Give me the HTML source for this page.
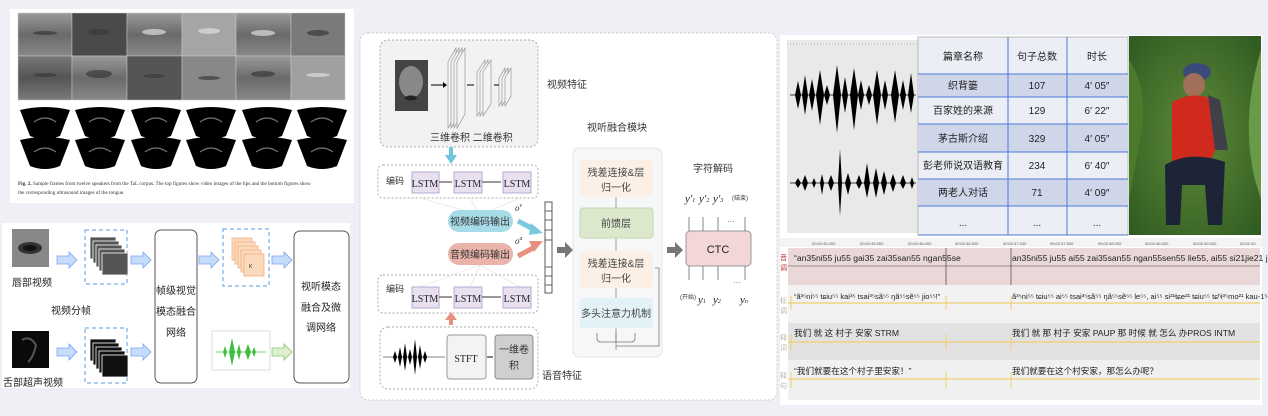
<!DOCTYPE html>
<html><head><meta charset="utf-8"><style>
html,body{margin:0;padding:0;background:#eef0f5;}
svg{display:block;font-family:"Liberation Sans","Noto Sans CJK SC",sans-serif;}
.s{font-family:"Liberation Serif","Noto Serif CJK SC",serif;}
</style></head><body>
<svg width="1268" height="416" viewBox="0 0 1268 416" xmlns="http://www.w3.org/2000/svg">
<defs>
<linearGradient id="lip" x1="0" y1="0" x2="0" y2="1"><stop offset="0" stop-color="#9a9a9a"/><stop offset="0.5" stop-color="#6a6a6a"/><stop offset="1" stop-color="#888"/></linearGradient>
<linearGradient id="lip2" x1="0" y1="0" x2="0" y2="1"><stop offset="0" stop-color="#777"/><stop offset="0.5" stop-color="#555"/><stop offset="1" stop-color="#7a7a7a"/></linearGradient>
<radialGradient id="photo" cx="0.5" cy="0.5" r="0.7"><stop offset="0" stop-color="#5f8a3a"/><stop offset="1" stop-color="#2f5a20"/></radialGradient>
<g id="fan"><path d="M0 0 L50 0 L40 26 Q25 32 10 26 Z" fill="#000"/><path d="M0 0 Q25 -6 50 0" fill="#000"/><path d="M14 12 Q25 4 36 12" stroke="#777" stroke-width="1.2" fill="none"/></g>
<g id="frame"><rect width="26" height="22" fill="#555" stroke="#fff" stroke-width="0.8"/></g>
<g id="tframe"><rect width="26" height="22" fill="#111" stroke="#fff" stroke-width="0.8"/></g>
<g id="oframe"><rect width="20" height="22" fill="#fbd9bc" stroke="#f0b080" stroke-width="0.8"/></g>
</defs>

<!-- ===== Top-left panel ===== -->
<rect x="10" y="9" width="344" height="194" fill="#fff"/>
<g>
<rect x="18" y="13" width="327" height="87" fill="url(#lip)"/>
<g fill="url(#lip)" stroke="#ccc" stroke-width="0.5">
<rect x="18" y="13" width="54" height="43"/><rect x="72" y="13" width="55" height="43" fill="#4a4a4a"/><rect x="127" y="13" width="55" height="43"/><rect x="182" y="13" width="54" height="43" fill="#a5a5a5"/><rect x="236" y="13" width="55" height="43"/><rect x="291" y="13" width="54" height="43" fill="#7a7a7a"/>
<rect x="18" y="56" width="54" height="44" fill="url(#lip2)"/><rect x="72" y="56" width="55" height="44"/><rect x="127" y="56" width="55" height="44" fill="#555"/><rect x="182" y="56" width="54" height="44" fill="#888"/><rect x="236" y="56" width="55" height="44"/><rect x="291" y="56" width="54" height="44" fill="#a0a0a0"/>
</g>
<g fill="#3a3a3a" opacity="0.7">
<ellipse cx="45" cy="33" rx="12" ry="2"/><ellipse cx="99" cy="32" rx="11" ry="3"/><ellipse cx="154" cy="32" rx="12" ry="3" fill="#ddd"/><ellipse cx="209" cy="31" rx="11" ry="3" fill="#ddd"/><ellipse cx="263" cy="33" rx="12" ry="3" fill="#ddd"/><ellipse cx="318" cy="33" rx="11" ry="3"/>
<ellipse cx="45" cy="75" rx="12" ry="2"/><ellipse cx="99" cy="74" rx="13" ry="4"/><ellipse cx="154" cy="76" rx="11" ry="2"/><ellipse cx="209" cy="78" rx="11" ry="2"/><ellipse cx="263" cy="74" rx="12" ry="3"/><ellipse cx="318" cy="75" rx="12" ry="2" fill="#ddd"/>
</g>
<use href="#fan" x="20" y="110"/><use href="#fan" x="75" y="110"/><use href="#fan" x="131" y="110"/><use href="#fan" x="186" y="110"/><use href="#fan" x="242" y="110"/><use href="#fan" x="297" y="110"/>
<use href="#fan" x="20" y="140"/><use href="#fan" x="75" y="140"/><use href="#fan" x="131" y="140"/><use href="#fan" x="186" y="140"/><use href="#fan" x="242" y="140"/><use href="#fan" x="297" y="140"/>
<text class="s" x="18" y="185" font-size="5.2" fill="#333"><tspan font-weight="bold">Fig. 2.</tspan> Sample frames from twelve speakers from the TaL corpus. The top figures show video images of the lips and the bottom figures show</text>
<text class="s" x="18" y="194" font-size="5.2" fill="#333">the corresponding ultrasound images of the tongue.</text>
</g>

<!-- ===== Bottom-left panel ===== -->
<rect x="2" y="223" width="348" height="165" fill="#fff"/>
<g>
<rect x="12" y="229" width="37" height="38" fill="#888"/><ellipse cx="30" cy="248" rx="12" ry="6" fill="#333"/><ellipse cx="30" cy="248" rx="7" ry="3" fill="#111"/>
<text x="12" y="286" font-size="10" fill="#222">唇部视频</text>
<text x="51" y="314" font-size="10" fill="#222">视频分帧</text>
<rect x="12" y="331" width="37" height="37" fill="#0a0a0a"/><path d="M22 340 Q30 335 36 345 Q33 358 28 362" stroke="#555" fill="none" stroke-width="2"/>
<text x="3" y="386" font-size="10" fill="#222">舌部超声视频</text>
<g fill="#c7dbfb" stroke="#7aa6ee" stroke-width="0.8">
<path d="M57 256 h12 v-4 l8 8 l-8 8 v-4 h-12z"/><path d="M131 256 h12 v-4 l8 8 l-8 8 v-4 h-12z"/><path d="M199 256 h12 v-4 l8 8 l-8 8 v-4 h-12z"/><path d="M272 256 h12 v-4 l8 8 l-8 8 v-4 h-12z"/>
<path d="M57 348 h12 v-4 l8 8 l-8 8 v-4 h-12z"/><path d="M131 348 h12 v-4 l8 8 l-8 8 v-4 h-12z"/>
</g>
<path d="M272 348 h12 v-4 l8 8 l-8 8 v-4 h-12z" fill="#dff0d4" stroke="#8cc070" stroke-width="0.8"/>
<rect x="85" y="230" width="42" height="54" fill="none" stroke="#5b9be0" stroke-dasharray="4 3"/>
<rect x="85" y="328" width="42" height="55" fill="none" stroke="#5b9be0" stroke-dasharray="4 3"/>
<rect x="223" y="229" width="46" height="57" fill="none" stroke="#5b9be0" stroke-dasharray="4 3"/>
<use href="#frame" x="90" y="237"/><use href="#frame" x="93" y="241"/><use href="#frame" x="96" y="245"/><use href="#frame" x="99" y="249"/><use href="#frame" x="102" y="253"/>
<use href="#tframe" x="90" y="339"/><use href="#tframe" x="93" y="343"/><use href="#tframe" x="96" y="347"/><use href="#tframe" x="99" y="351"/><use href="#tframe" x="102" y="355"/>
<use href="#oframe" x="232" y="238"/><use href="#oframe" x="235" y="242"/><use href="#oframe" x="238" y="246"/><use href="#oframe" x="241" y="250"/><use href="#oframe" x="244" y="254"/>
<text x="249" y="268" font-size="5" fill="#333">K</text>
<rect x="155" y="230" width="42" height="153" rx="6" fill="#fff" stroke="#555"/>
<text x="176" y="294" font-size="10" text-anchor="middle" fill="#222">帧级视觉</text>
<text x="176" y="315" font-size="10" text-anchor="middle" fill="#222">模态融合</text>
<text x="176" y="336" font-size="10" text-anchor="middle" fill="#222">网络</text>
<rect x="294" y="231" width="55" height="152" rx="6" fill="#fff" stroke="#555"/>
<text x="321" y="290" font-size="10" text-anchor="middle" fill="#222">视听模态</text>
<text x="321" y="311" font-size="10" text-anchor="middle" fill="#222">融合及微</text>
<text x="321" y="331" font-size="10" text-anchor="middle" fill="#222">调网络</text>
<rect x="212" y="331" width="58" height="39" fill="#fff" stroke="#ddd"/>
<path d="M216 352 H266" stroke="#7fd07f" stroke-width="1"/>
<g fill="#3fbf3f"><path d="M225 346 L227 352 L225 358 L223 352Z"/><path d="M232 338 L235 352 L232 366 L229 352Z"/><path d="M239 344 L241 352 L239 360 L237 352Z"/><path d="M248 344 L251 352 L248 360 L245 352Z"/><path d="M254 347 L256 352 L254 357 L252 352Z"/></g>
</g>

<!-- ===== Middle panel ===== -->
<rect x="360" y="33" width="417" height="367" rx="8" fill="#fff" stroke="#ccc" stroke-dasharray="2 2"/>
<g>
<rect x="380" y="40" width="158" height="107" rx="8" fill="#f2f2f2" stroke="#aaa" stroke-dasharray="2 2"/>
<rect x="395" y="60" width="33" height="51" fill="#444"/><ellipse cx="411" cy="82" rx="12" ry="16" fill="#888"/><ellipse cx="411" cy="98" rx="6" ry="2.5" fill="#222"/>
<path d="M431 85 h12" stroke="#000"/><path d="M443 82 l4 3 l-4 3z"/>
<g fill="#f4f4f4" stroke="#888" stroke-width="0.6">
<path d="M448 62 l8 -14 v66 l-8 14z"/><path d="M451 62 l8 -14 v66 l-8 14z"/><path d="M454 62 l8 -14 v66 l-8 14z"/><path d="M457 62 l8 -14 v66 l-8 14z"/>
<path d="M477 72 l8 -12 v44 l-8 12z"/><path d="M480 72 l8 -12 v44 l-8 12z"/><path d="M483 72 l8 -12 v44 l-8 12z"/>
<path d="M499 78 l6 -10 v28 l-6 10z"/><path d="M502 78 l6 -10 v28 l-6 10z"/><path d="M505 78 l6 -10 v28 l-6 10z"/>
</g>
<path d="M467 85 h7 M494 85 h5" stroke="#000"/>
<text x="547" y="88" font-size="10" fill="#333">视频特征</text>
<text x="430" y="141" font-size="10" fill="#333">三维卷积 二维卷积</text>
<path d="M451 147 v8" stroke="#6cc6dc" stroke-width="4"/><path d="M445 155 l6 9 l6 -9z" fill="#6cc6dc"/>
<rect x="378" y="165" width="160" height="33" rx="5" fill="#fff" stroke="#aaa" stroke-dasharray="2 2"/>
<text x="386" y="184" font-size="9" fill="#333">编码</text>
<rect x="378" y="275" width="160" height="38" rx="5" fill="#fff" stroke="#aaa" stroke-dasharray="2 2"/>
<text x="386" y="292" font-size="9" fill="#333">编码</text>
<path d="M420 198 L480 215 M470 198 L480 215 M520 198 L480 215 M420 287 L480 265 M470 287 L480 265 M520 287 L480 265" stroke="#ddd" stroke-width="0.6"/>
<g fill="#e8e0f0" stroke="#b8a8d0"><rect x="412" y="172" width="27" height="21"/><rect x="454" y="172" width="28" height="21"/><rect x="503" y="172" width="28" height="21"/>
<rect x="412" y="287" width="27" height="21"/><rect x="454" y="287" width="28" height="21"/><rect x="503" y="287" width="28" height="21"/></g>
<g class="s" font-size="10" fill="#222" text-anchor="middle"><text x="425" y="187">LSTM</text><text x="468" y="187">LSTM</text><text x="517" y="187">LSTM</text><text x="425" y="302">LSTM</text><text x="468" y="302">LSTM</text><text x="517" y="302">LSTM</text></g>
<path d="M439 182 h13 M482 182 h19 M439 297 h13 M482 297 h19" stroke="#333"/>
<rect x="448" y="210" width="65" height="22" rx="11" fill="#a8dbe8"/>
<text x="480" y="225" font-size="10" text-anchor="middle" fill="#333">视频编码输出</text>
<rect x="448" y="243" width="65" height="22" rx="11" fill="#eab4ab"/>
<text x="480" y="258" font-size="10" text-anchor="middle" fill="#333">音频编码输出</text>
<text class="s" x="515" y="211" font-size="9" font-style="italic" fill="#333">o<tspan font-size="6" dy="-4">v</tspan></text>
<text class="s" x="515" y="244" font-size="9" font-style="italic" fill="#333">o<tspan font-size="6" dy="-4">a</tspan></text>
<path d="M518 221 L535 230" stroke="#7cc8dc" stroke-width="5"/><path d="M531 223 l12 10 l-14 2z" fill="#7cc8dc"/>
<path d="M518 256 L535 247" stroke="#e89080" stroke-width="5"/><path d="M529 241 l14 0 l-9 11z" fill="#e89080"/>
<rect x="545" y="202" width="7" height="91" fill="#fff" stroke="#333" stroke-width="0.8"/>
<path d="M545 211 h7 M545 220 h7 M545 230 h7 M545 240 h7 M545 267 h7 M545 276 h7 M545 285 h7" stroke="#333" stroke-width="0.8"/>
<path d="M557 247 h8 v-5 l8 8 l-8 8 v-5 h-8z" fill="#777"/>
<path d="M451 325 v-6" stroke="#e89080" stroke-width="4"/><path d="M445 320 l6 -8 l6 8z" fill="#e89080"/>
<rect x="380" y="327" width="158" height="62" rx="8" fill="#fff" stroke="#aaa" stroke-dasharray="2 2"/>
<path d="M383 357 H445" stroke="#000" stroke-width="0.6"/>
<g fill="#000"><path d="M393 357 l2 -6 l2 6 l-2 6z"/><path d="M398 357 l2 -10 l2 10 l-2 10z"/><path d="M403 357 l2 -14 l2 14 l-2 14z"/><path d="M408 357 l2 -8 l2 8 l-2 8z"/><path d="M413 357 l2 -18 l2 18 l-2 18z"/><path d="M418 357 l2 -12 l2 12 l-2 12z"/><path d="M423 357 l2 -6 l2 6 l-2 6z"/></g>
<rect x="447" y="335" width="39" height="44" rx="3" fill="#f3f3f3" stroke="#999"/>
<text class="s" x="466" y="362" font-size="10" text-anchor="middle" fill="#222">STFT</text>
<path d="M487 357 h6" stroke="#000"/>
<rect x="495" y="335" width="38" height="44" rx="3" fill="#cfcfcf" stroke="#888"/>
<text x="514" y="353" font-size="10" text-anchor="middle" fill="#333">一维卷</text>
<text x="514" y="369" font-size="10" text-anchor="middle" fill="#333">积</text>
<text x="542" y="379" font-size="10" fill="#333">语音特征</text>

<text x="587" y="131" font-size="10" fill="#333">视听融合模块</text>
<rect x="573" y="148" width="89" height="209" rx="6" fill="#f6f7f8" stroke="#e4e4e4"/>
<path d="M616 197 v11 M616 238 v13 M616 288 v10 M616 328 v22" stroke="#888" stroke-width="0.8"/>
<rect x="580" y="160" width="73" height="37" rx="3" fill="#fcf0e6"/>
<text x="616" y="176" font-size="10" text-anchor="middle" fill="#444">残差连接&amp;层</text><text x="616" y="191" font-size="10" text-anchor="middle" fill="#444">归一化</text>
<rect x="580" y="208" width="73" height="30" rx="3" fill="#dbe8cc" stroke="#c8d8b4"/>
<text x="616" y="227" font-size="10" text-anchor="middle" fill="#444">前馈层</text>
<rect x="580" y="251" width="73" height="37" rx="3" fill="#fcf0e6"/>
<text x="616" y="267" font-size="10" text-anchor="middle" fill="#444">残差连接&amp;层</text><text x="616" y="282" font-size="10" text-anchor="middle" fill="#444">归一化</text>
<rect x="580" y="298" width="73" height="30" rx="3" fill="#e3f2f7"/>
<text x="616" y="317" font-size="10" text-anchor="middle" fill="#444">多头注意力机制</text>
<path d="M597 333 v5 q0 4 4 4 h30 q4 0 4 -4 v-5 M616 342 v-9 M616 346 H659 V268 H655" stroke="#777" fill="none" stroke-width="0.8"/>
<path d="M667 247 h8 v-5 l8 8 l-8 8 v-5 h-8z" fill="#777"/>
<rect x="686" y="231" width="65" height="35" rx="4" fill="#f3d6d6" stroke="#999"/>
<text x="718" y="253" font-size="11" text-anchor="middle" fill="#222">CTC</text>
<text x="693" y="172" font-size="10" fill="#333">字符解码</text>
<path d="M689 231 v-14 M703 231 v-14 M718 231 v-14 M745 231 v-14 M689 266 v14 M703 266 v14 M718 266 v14 M745 266 v14" stroke="#666" stroke-width="0.8"/>
<g class="s" font-style="italic" font-size="11" fill="#222"><text x="685" y="202">y'<tspan font-size="6">1</tspan></text><text x="699" y="202">y'<tspan font-size="6">2</tspan></text><text x="713" y="202">y'<tspan font-size="6">3</tspan></text>
<text x="698" y="303">y<tspan font-size="6">1</tspan></text><text x="713" y="303">y<tspan font-size="6">2</tspan></text><text x="740" y="303">y<tspan font-size="6">n</tspan></text></g>
<text x="732" y="200" font-size="6" fill="#333">(结束)</text>
<text x="680" y="299" font-size="6" fill="#333">(开始)</text>
<text x="727" y="222" font-size="8" fill="#666">…</text><text x="733" y="283" font-size="8" fill="#666">…</text>
</g>

<!-- ===== Right panel ===== -->
<rect x="780" y="35" width="482" height="370" fill="#fff"/>
<rect x="787" y="40" width="131" height="193" fill="#e9e9e9"/>
<path d="M787 44 H918" stroke="#aaa" stroke-dasharray="1 2"/>
<path d="M790 95 H916 M790 183 H916" stroke="#000" stroke-width="0.8"/>
<g fill="#000">
<path d="M795 95 l3 -14 l3 14 l-3 14z"/><path d="M802 95 l3 -20 l3 20 l-3 20z"/><path d="M809 95 l3 -16 l3 16 l-3 16z"/><path d="M816 95 l4 -25 l4 25 l-4 30z"/><path d="M824 95 l3 -10 l3 10 l-3 10z"/>
<path d="M833 95 l4 -30 l4 30 l-4 38z"/><path d="M842 95 l3 -18 l3 18 l-3 18z"/><path d="M850 95 l4 -27 l4 27 l-4 35z"/><path d="M858 95 l3 -15 l3 15 l-3 15z"/><path d="M866 95 l3 -10 l3 10 l-3 10z"/>
<path d="M873 95 l4 -25 l4 25 l-4 30z"/><path d="M882 95 l3 -15 l3 15 l-3 15z"/><path d="M891 95 l4 -25 l4 25 l-4 28z"/><path d="M900 95 l3 -15 l3 15 l-3 15z"/><path d="M908 95 l3 -22 l3 22 l-3 18z"/>
<path d="M795 183 l3 -5 l3 5 l-3 5z"/><path d="M802 183 l3 -8 l3 8 l-3 8z"/><path d="M812 183 l2 -5 l2 5 l-2 5z"/><path d="M820 183 l2 -9 l2 9 l-2 12z"/><path d="M828 183 l3 -8 l3 8 l-3 8z"/>
<path d="M838 183 l2 -34 l2 34 l-2 33z"/><path d="M845 183 l3 -10 l3 10 l-3 12z"/><path d="M856 183 l3 -8 l3 8 l-3 6z"/><path d="M864 183 l3 -20 l3 20 l-3 15z"/><path d="M873 183 l3 -15 l3 15 l-3 15z"/>
<path d="M881 183 l3 -12 l3 12 l-3 12z"/><path d="M890 183 l3 -9 l3 9 l-3 9z"/><path d="M900 183 l3 -8 l3 8 l-3 6z"/><path d="M910 183 l2 -6 l2 6 l-2 6z"/>
</g>
<!-- table -->
<rect x="918" y="37" width="210" height="198" fill="#eceef6" stroke="#bbb"/>
<g fill="#d0d6ea"><rect x="918" y="74" width="210" height="23"/><rect x="918" y="124" width="210" height="28"/><rect x="918" y="179" width="210" height="27"/></g>
<g stroke="#4a7bd8" stroke-width="1"><path d="M918 74 H1128 M918 97 H1128 M918 124 H1128 M918 152 H1128 M918 179 H1128 M918 206 H1128 M918 235 H1128"/><path d="M1008 37 V235 M1067 37 V235"/></g>
<g font-size="10" fill="#222" text-anchor="middle">
<text x="963" y="60">篇章名称</text><text x="1037" y="60">句子总数</text><text x="1097" y="60">时长</text>
<text x="963" y="89">织背篓</text><text x="1037" y="89">107</text><text x="1097" y="89">4′ 05″</text>
<text x="963" y="114">百家姓的来源</text><text x="1037" y="114">129</text><text x="1097" y="114">6′ 22″</text>
<text x="963" y="142">茅古斯介绍</text><text x="1037" y="142">329</text><text x="1097" y="142">4′ 05″</text>
<text x="963" y="169">彭老师说双语教育</text><text x="1037" y="169">234</text><text x="1097" y="169">6′ 40″</text>
<text x="963" y="196">两老人对话</text><text x="1037" y="196">71</text><text x="1097" y="196">4′ 09″</text>
<text x="963" y="226">...</text><text x="1037" y="226">...</text><text x="1097" y="226">...</text>
</g>
<!-- photo -->
<rect x="1129" y="36" width="132" height="199" fill="url(#photo)"/>
<path d="M1129 60 Q1150 90 1140 140 L1129 200Z" fill="#4a7a2a"/><path d="M1261 50 Q1240 120 1255 180 L1261 200Z" fill="#6a9a48"/>
<ellipse cx="1197" cy="72" rx="14" ry="9" fill="#3a4a7a"/>
<ellipse cx="1194" cy="85" rx="11" ry="12" fill="#a0705a"/>
<path d="M1172 102 Q1194 90 1214 100 L1218 145 L1208 165 L1172 165Z" fill="#d02a1e"/>
<path d="M1208 95 L1220 100 L1228 150 L1215 150Z" fill="#404048"/>
<path d="M1165 165 Q1190 150 1225 162 L1222 225 L1208 225 L1205 185 L1182 185 L1180 225 L1166 225Z" fill="#1e2438"/>
<!-- timeline -->
<rect x="780" y="238" width="482" height="9" fill="#f4f4f4"/>
<g font-size="4" fill="#555"><text x="812" y="245">00:02:45.000</text><text x="860" y="245">00:02:45.500</text><text x="908" y="245">00:02:46.000</text><text x="955" y="245">00:02:46.500</text><text x="1003" y="245">00:02:47.000</text><text x="1050" y="245">00:02:47.500</text><text x="1098" y="245">00:02:48.000</text><text x="1145" y="245">00:02:48.500</text><text x="1193" y="245">00:02:49.000</text><text x="1240" y="245">00:02:49</text></g>
<rect x="788" y="248" width="472" height="37" fill="#ead8d8"/>
<path d="M788 266 H1260" stroke="#777" stroke-width="0.8"/>
<rect x="788" y="285" width="472" height="38" fill="#f2f2f2"/>
<rect x="788" y="323" width="472" height="37" fill="#e2e2e2"/>
<rect x="788" y="360" width="472" height="40" fill="#f0f0f0"/>
<path d="M946 248 V285 M1011 248 V285" stroke="#555" stroke-width="0.8"/>
<path d="M788 303 H1260 M788 342 H1260 M788 379 H1260" stroke="#f0d070" stroke-width="1.2"/>
<path d="M946 296 V310 M1011 296 V310 M946 334 V350 M1011 334 V350 M946 372 V388 M1011 372 V388 M791 296 V310 M791 334 V350 M791 372 V388" stroke="#f0d070"/>
<g font-size="7" fill="#c03030"><text x="780" y="260">音</text><text x="780" y="270">调</text></g>
<g font-size="7" fill="#b8b8a0"><text x="780" y="303">标</text><text x="780" y="313">调</text><text x="780" y="340">释</text><text x="780" y="350">词</text><text x="780" y="378">释</text><text x="780" y="388">句</text></g>
<g font-size="8.6" fill="#222">
<text x="794" y="261">“an35ni55 ju55 gai35 zai35san55 ngan55se</text>
<text x="1012" y="261">an35ni55 ju55 ai55 zai35san55 ngan55sen55 lie55, ai55 si21jie21 ju55 qi</text>
<text x="794" y="299" font-size="7.5">“ã³⁵ni⁵⁵ tɕiu⁵⁵ kai³⁵ tsai³⁵sã⁵⁵ ŋã⁵⁵sẽ⁵⁵ jio⁵⁵!”</text>
<text x="1012" y="299" font-size="7.5">ã³⁵ni⁵⁵ tɕiu⁵⁵ ai⁵⁵ tsai³⁵sã⁵⁵ ŋã⁵⁵sẽ⁵⁵ le⁵⁵, ai⁵⁵ si²¹tɕe²¹ tɕiu⁵⁵ tɕʰi³⁵mo²¹ kau-1⁵³ l</text>
<text x="794" y="336">我们 就 这 村子 安家 STRM</text>
<text x="1012" y="336">我们 就 那 村子 安家 PAUP 那 时候 就 怎么 办PROS INTM</text>
<text x="794" y="374">“我们就要在这个村子里安家！”</text>
<text x="1012" y="374">我们就要在这个村安家，那怎么办呢？</text>
</g>
</svg>
</body></html>
